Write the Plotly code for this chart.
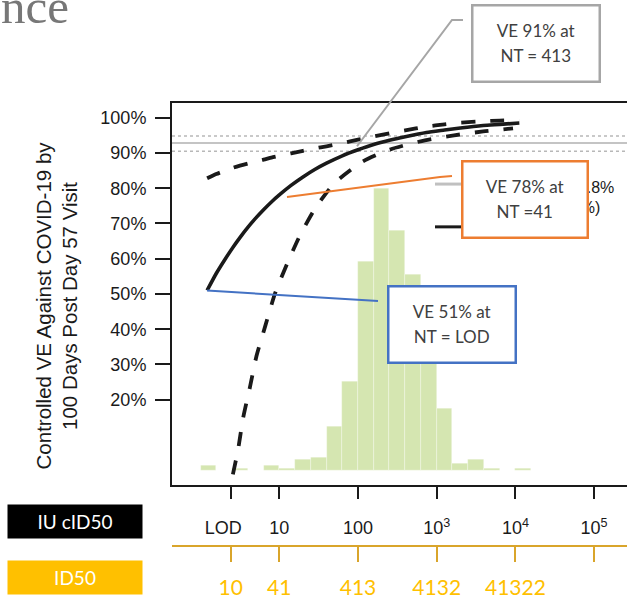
import numpy as np
import plotly.graph_objects as go

W, H = 627, 599

# ---------------- data ----------------
# titer in IU cID50 units (x of the curves)
curve_titer = [1.21, 1.58, 2.0, 2.57, 3.16, 3.98, 5.01, 6.31, 7.94, 10, 14.1, 20.0, 28.2,
               39.8, 63.1, 100, 158, 251, 398, 741, 1259, 1995, 3890, 6310, 11220]
ve_solid = [51.0, 55.8, 59.5, 63.2, 66.0, 68.9, 71.5, 73.9, 76.1, 78.1, 80.8, 83.2, 85.3,
            87.1, 89.2, 90.9, 92.4, 93.6, 94.6, 95.8, 96.5, 97.1, 97.8, 98.1, 98.5]
ve_upper = [82.8, 84.0, 84.9, 85.8, 86.4, 87.0, 87.6, 88.1, 88.7, 89.2, 89.9, 90.6, 91.3,
            91.9, 92.8, 93.8, 94.7, 95.6, 96.4, 97.5, 98.1, 98.6, 99.0, 99.2, 99.3]
lower_titer = [1.21, 1.78, 2.48, 2.99, 3.47, 4.27, 5.13, 6.61, 8.81, 12.6, 18.2, 28.2,
               50.1, 115, 257, 708, 1660, 3890, 9330]
ve_lower = [-50, -23, -3, 5.8, 14.8, 23.9, 32.4, 40.8, 50.1, 58.6, 66.5, 74.1,
            81.4, 87.6, 91.0, 93.6, 95.0, 96.1, 97.0]

overall_ve = 92.8
overall_lo = 90.5
overall_hi = 94.8

# histogram of log10 titers (bin left edges, bin width 0.2) and bar heights (VE-% scale)
hist_log10_left = [0.0, 0.2, 0.4, 0.6, 0.8, 1.0, 1.2, 1.4, 1.6, 1.8, 2.0,
                   2.2, 2.4, 2.6, 2.8, 3.0, 3.2, 3.4, 3.6, 3.8, 4.0]
hist_height = [1.3, 0, 0.6, 0, 1.3, 0.6, 3.1, 3.6, 12.3, 25.1, 59.1,
               80.0, 67.9, 55.4, 37.0, 17.5, 2.0, 3.1, 0.4, 0, 0.4]
hist_bin_width = 0.2

tick_iu = [2.42, 10, 100, 1000, 10000, 100000]
tick_iu_text = ["LOD\u00a0\u00a0\u00a0", "10", "100", "10<sup>3</sup>", "10<sup>4</sup>", "10<sup>5</sup>"]
tick_id50_text = ["10", "41", "413", "4132", "41322", ""]

y_ticks = [20, 30, 40, 50, 60, 70, 80, 90, 100]
y_tick_text = [f"{v}%" for v in y_ticks]

# ---------------- layout helpers ----------------
def PX(x):
    return x / W

def PY(y):
    return 1 - y / H

plot_l, plot_r, plot_t, plot_b = 172, 627, 104, 487
x_range_log = [-0.3634, 5.418]
y_range = [-4.08, 104.04]

BLACK = "#1a1a1a"
GOLD_LINE = "#d9a52b"
GOLD = "#ffc000"
GREY = "#a6a6a6"
ORANGE = "#ed7d31"
BLUE = "#4472c4"
TXT = "#404040"

fig = go.Figure()

# histogram (linear axis in log10 units, underneath)
fig.add_trace(go.Bar(
    x=np.array(hist_log10_left) + hist_bin_width / 2,
    y=hist_height,
    width=hist_bin_width,
    marker=dict(color="#d5e6b1", line=dict(width=0.6, color="rgba(255,255,255,0.5)")),
    xaxis="x", yaxis="y", showlegend=False, hoverinfo="skip",
))

# curves on log axis
dash = "14px,15px"
fig.add_trace(go.Scatter(x=lower_titer, y=ve_lower, mode="lines", xaxis="x2", yaxis="y",
                         line=dict(color=BLACK, width=3.8, dash=dash, shape="spline", smoothing=0.6),
                         showlegend=False))
fig.add_trace(go.Scatter(x=curve_titer, y=ve_upper, mode="lines", xaxis="x2", yaxis="y",
                         line=dict(color=BLACK, width=3.8, dash=dash, shape="spline", smoothing=0.6),
                         showlegend=False))
fig.add_trace(go.Scatter(x=curve_titer, y=ve_solid, mode="lines", xaxis="x2", yaxis="y",
                         line=dict(color=BLACK, width=3.6, shape="spline", smoothing=0.6),
                         showlegend=False))
# empty trace so that the ID50 axis gets drawn
fig.add_trace(go.Scatter(x=[tick_iu[0]], y=[None], mode="markers", xaxis="x3", yaxis="y",
                         showlegend=False, hoverinfo="skip"))

shapes = []
# overall VE lines
shapes.append(dict(type="line", xref="paper", yref="y", x0=PX(plot_l), x1=1,
                   y0=overall_ve, y1=overall_ve, line=dict(color="#c4c4c4", width=2), layer="below"))
for v in (overall_lo, overall_hi):
    shapes.append(dict(type="line", xref="paper", yref="y", x0=PX(plot_l), x1=1,
                       y0=v, y1=v, line=dict(color="#b8b8b8", width=1.5, dash="dot"), layer="below"))

# legend line samples
shapes.append(dict(type="line", xref="paper", yref="paper", x0=PX(435), x1=PX(462),
                   y0=PY(185), y1=PY(185), line=dict(color="#c0c0c0", width=3)))
shapes.append(dict(type="line", xref="paper", yref="paper", x0=PX(435), x1=PX(462),
                   y0=PY(228), y1=PY(228), line=dict(color=BLACK, width=3)))

def path(pts):
    return "M " + " L ".join(f"{PX(x)},{PY(y)}" for x, y in pts)

# connectors
shapes.append(dict(type="path", xref="paper", yref="paper",
                   path=path([(357, 147), (452, 20), (463, 20)]), line=dict(color=GREY, width=2)))
shapes.append(dict(type="path", xref="paper", yref="paper",
                   path=path([(287, 198), (440, 178), (452, 177)]), line=dict(color=ORANGE, width=2)))
shapes.append(dict(type="path", xref="paper", yref="paper",
                   path=path([(207, 292), (370, 302), (378, 302.5)]), line=dict(color=BLUE, width=2)))

annotations = []

# 'nce' fragment top-left
annotations.append(dict(text="nce", xref="paper", yref="paper", x=PX(-1), y=PY(36),
                        xanchor="left", yanchor="bottom", showarrow=False,
                        font=dict(family="Liberation Serif", size=49, color="#777777")))

# y-axis title
annotations.append(dict(text="Controlled VE Against COVID-19 by<br>100 Days Post Day 57 Visit",
                        xref="paper", yref="paper", x=PX(57), y=PY(307), textangle=-90,
                        showarrow=False, xanchor="center", yanchor="middle",
                        font=dict(family="Liberation Sans", size=20.5, color=BLACK)))

# legend text (mostly hidden by the orange box)
annotations.append(dict(text="Overall VE 92.8%", xref="paper", yref="paper", x=PX(616), y=PY(188),
                        xanchor="right", yanchor="middle", showarrow=False,
                        font=dict(family="Liberation Sans", size=16, color=BLACK)))
annotations.append(dict(text="(90.5%, 94.8%)", xref="paper", yref="paper", x=PX(602), y=PY(209),
                        xanchor="right", yanchor="middle", showarrow=False,
                        font=dict(family="Liberation Sans", size=16, color=BLACK)))

def box(x0, y0, x1, y1, color, lines, bw=2.5):
    txt = "<br>".join(f"<span style='font-size:17px'>{t}</span>" for t in lines)
    annotations.append(dict(text=txt, xref="paper", yref="paper",
                            x=PX((x0 + x1) / 2), y=PY((y0 + y1) / 2),
                            xanchor="center", yanchor="middle", showarrow=False,
                            width=x1 - x0 - bw, height=y1 - y0 - bw, borderpad=0,
                            bgcolor="white", bordercolor=color, borderwidth=bw,
                            font=dict(family="Lato", size=19.5, color=TXT)))

box(472, 6, 599, 82, GREY, ["VE 91% at", "NT = 413"])
box(462, 163, 587, 239, ORANGE, ["VE 78% at", "NT =41"])
box(388, 288, 515, 364, BLUE, ["VE 51% at", "NT = LOD"])

# label boxes bottom-left
annotations.append(dict(text="IU cID50", xref="paper", yref="paper", x=PX(75), y=PY(524.5),
                        xanchor="center", yanchor="middle", showarrow=False,
                        width=134, height=33, bgcolor="black", borderpad=0,
                        font=dict(family="Lato", size=19, color="white")))
annotations.append(dict(text="ID50", xref="paper", yref="paper", x=PX(75), y=PY(580),
                        xanchor="center", yanchor="middle", showarrow=False,
                        width=134, height=33, bgcolor=GOLD, borderpad=0,
                        font=dict(family="Lato", size=19, color="white")))

fig.update_layout(
    width=W, height=H,
    margin=dict(l=0, r=0, t=0, b=0),
    paper_bgcolor="white", plot_bgcolor="white",
    showlegend=False,
    bargap=0,
    xaxis=dict(domain=[PX(plot_l), 1], range=x_range_log, type="linear",
               showline=True, linecolor=BLACK, linewidth=2, mirror=True,
               showticklabels=False, ticks="", showgrid=False, zeroline=False, anchor="y"),
    xaxis2=dict(type="log", overlaying="x", anchor="y", range=x_range_log,
                tickvals=tick_iu, ticktext=tick_iu_text, ticks="outside", ticklen=13,
                tickwidth=1.5, tickcolor=BLACK, showline=False, showgrid=False, zeroline=False,
                tickfont=dict(family="Liberation Sans", size=18, color=BLACK),
                ticklabelstandoff=14),
    xaxis3=dict(type="log", overlaying="x", anchor="free", position=PY(548.5), range=x_range_log,
                tickvals=tick_iu, ticktext=tick_id50_text, ticks="outside", ticklen=15,
                tickwidth=2, tickcolor=GOLD_LINE, showline=True, linecolor=GOLD_LINE, linewidth=2,
                showgrid=False, zeroline=False,
                tickfont=dict(family="Lato", size=21, color=GOLD),
                ticklabelstandoff=8),
    yaxis=dict(domain=[PY(plot_b), PY(plot_t)], range=y_range, tickvals=y_ticks, ticktext=y_tick_text,
               ticks="outside", ticklen=15, tickwidth=2, tickcolor=BLACK,
               showline=True, linecolor=BLACK, linewidth=2, mirror=False,
               showgrid=False, zeroline=False,
               tickfont=dict(family="Liberation Sans", size=18, color=BLACK),
               ticklabelstandoff=5),
    shapes=shapes,
    annotations=annotations,
)

fig.write_html("out.html", config={"displayModeBar": False},
               post_script="document.body.style.margin='0px';")
